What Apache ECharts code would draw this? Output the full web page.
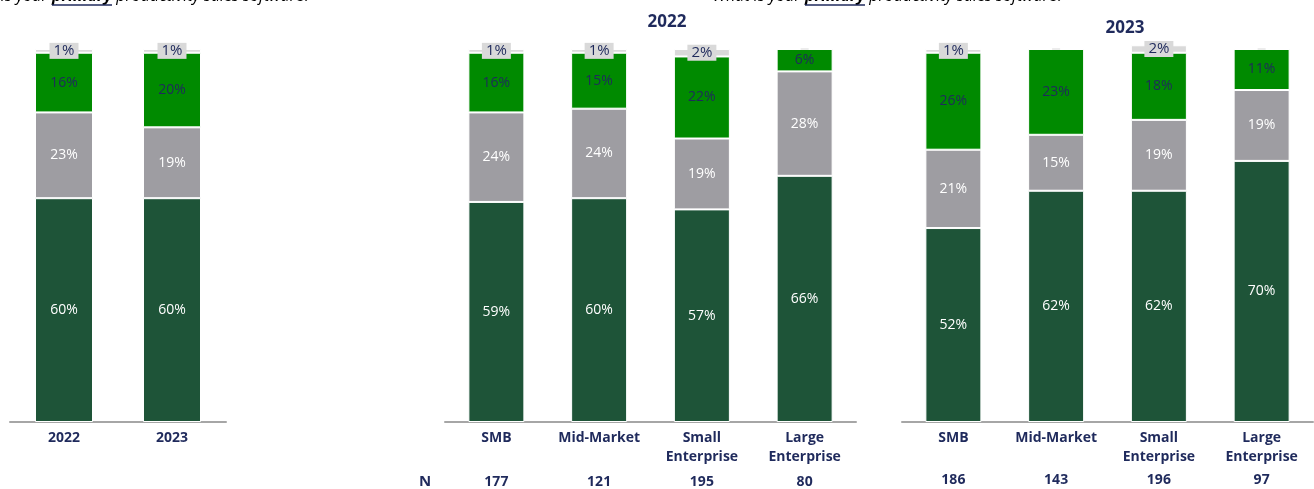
<!DOCTYPE html>
<html>
<head>
<meta charset="utf-8">
<script src="https://cdn.jsdelivr.net/npm/echarts@6/dist/echarts.min.js"></script>
<style>
  html, body { margin: 0; padding: 0; background: #ffffff; }
  #chart { width: 1314px; height: 489px; }
</style>
</head>
<body>
<div id="chart"></div>
<script>
// ---- data ----
const questionLead = 'What is your ';
const questionKey  = 'primary';
const questionTail = ' productivity sales software?';

const overallCategories = ['2022', '2023'];
const overallBase   = [60, 60];
const overallMiddle = [23, 19];
const overallUpper  = [16, 20];
const overallTop    = [1, 1];

const segmentCategories = ['SMB', 'Mid-Market', 'Small\nEnterprise', 'Large\nEnterprise'];

const seg2022Base   = [59, 60, 57, 66];
const seg2022Middle = [24, 24, 19, 28];
const seg2022Upper  = [16, 15, 22, 6];
const seg2022Top    = [1, 1, 2, 0];
const seg2022N      = [177, 121, 195, 80];

const seg2023Base   = [52, 62, 62, 70];
const seg2023Middle = [21, 15, 19, 19];
const seg2023Upper  = [26, 23, 18, 11];
const seg2023Top    = [1, 0, 2, 0];
const seg2023N      = [186, 143, 196, 97];

// ---- styling ----
const NAVY = '#1f2a5c';
const FONT = '"Open Sans", "Noto Sans", sans-serif';
const QFONT_SIZE = 16;
const layerStyles = [
  { color: '#1e5438', text: '#ffffff', boxed: false },
  { color: '#9e9da2', text: '#ffffff', boxed: false },
  { color: '#008a00', text: NAVY,      boxed: false },
  { color: '#d9d9d9', text: NAVY,      boxed: true  }
];

function stackedSeries(axisIndex, stackId, layers, barWidth) {
  return layers.map((values, i) => {
    const st = layerStyles[i];
    const label = {
      show: true,
      position: 'inside',
      fontFamily: FONT,
      fontSize: st.boxed ? 15 : 14,
      color: st.text,
      formatter: p => (p.value > 0 ? p.value + '%' : '')
    };
    if (st.boxed) {
      label.backgroundColor = '#d9d9d9';
      label.padding = [1, 4, 0, 4];
    }
    return {
      type: 'bar',
      name: stackId + '-' + i,
      xAxisIndex: axisIndex,
      yAxisIndex: axisIndex,
      stack: stackId,
      barWidth: barWidth,
      clip: false,
      data: values,
      itemStyle: { color: st.color, borderColor: '#ffffff', borderWidth: 1 },
      label: label,
      emphasis: { disabled: true },
      z: i === 3 ? 3 : 2
    };
  });
}

const grids = [
  { left: 10,  width: 216, top: 49, bottom: 67 },
  { left: 445, width: 411, top: 49, bottom: 67 },
  { left: 902, width: 411, top: 49, bottom: 67 }
];

function categoryAxis(gridIndex, data) {
  return {
    type: 'category',
    gridIndex: gridIndex,
    data: data,
    position: 'bottom',
    axisLine: { show: true, lineStyle: { color: '#a6a6a6', width: 2 } },
    axisTick: { show: false },
    axisLabel: {
      interval: 0,
      margin: 7,
      fontFamily: FONT,
      fontSize: 14,
      fontWeight: 'bold',
      color: NAVY,
      lineHeight: 19,
      verticalAlign: 'top'
    }
  };
}

function countAxis(gridIndex, data, offset) {
  return {
    type: 'category',
    gridIndex: gridIndex,
    data: data.map(String),
    position: 'bottom',
    offset: offset,
    axisLine: { show: false },
    axisTick: { show: false },
    axisLabel: {
      interval: 0,
      margin: 0,
      fontFamily: FONT,
      fontSize: 14,
      fontWeight: 'bold',
      color: NAVY,
      verticalAlign: 'top'
    }
  };
}

function valueAxis(gridIndex) {
  return {
    type: 'value', gridIndex: gridIndex, min: 0, max: 100,
    show: false, splitLine: { show: false }
  };
}

// Question line (partly above the page edge) with the key word underlined.
const measureCtx = document.createElement('canvas').getContext('2d');
function textWidth(str, font) { measureCtx.font = font; return measureCtx.measureText(str).width; }
const qFontRegular = 'italic ' + QFONT_SIZE + 'px "Open Sans"';
const qFontBold = 'italic bold ' + QFONT_SIZE + 'px "Open Sans"';

function questionGraphics(keyStartX, baselineY) {
  const leadW = textWidth(questionLead, qFontRegular);
  const keyW = textWidth(questionKey, qFontBold);
  const x0 = keyStartX - leadW;
  return [
    { type: 'text', x: x0, y: baselineY,
      style: {
        text: '{r|' + questionLead + '}{b|' + questionKey + '}{r|' + questionTail + '}',
        textVerticalAlign: 'bottom',
        rich: {
          r: { fontFamily: 'Open Sans', fontStyle: 'italic', fontSize: QFONT_SIZE, color: '#3d4a7a' },
          b: { fontFamily: 'Open Sans', fontStyle: 'italic', fontWeight: 'bold', fontSize: QFONT_SIZE, color: NAVY }
        }
      } },
    { type: 'line', shape: { x1: keyStartX, y1: 5, x2: keyStartX + keyW, y2: 5 },
      style: { stroke: NAVY, lineWidth: 1.5 } }
  ];
}

const option = {
  animation: false,
  backgroundColor: '#ffffff',
  grid: grids,
  xAxis: [
    categoryAxis(0, overallCategories),
    categoryAxis(1, segmentCategories),
    categoryAxis(2, segmentCategories),
    countAxis(1, seg2022N, 53),
    countAxis(2, seg2023N, 51)
  ],
  yAxis: [valueAxis(0), valueAxis(1), valueAxis(2), valueAxis(1), valueAxis(2)],
  title: [
    { text: '2022', left: 662, top: 9, textAlign: 'center',
      textStyle: { fontFamily: FONT, fontSize: 17, fontWeight: 'bold', color: NAVY } },
    { text: '2023', left: 1120, top: 15, textAlign: 'center',
      textStyle: { fontFamily: FONT, fontSize: 17, fontWeight: 'bold', color: NAVY } }
  ],
  graphic: [
    { type: 'text', left: 419, top: 474,
      style: { text: 'N', font: 'bold 15px ' + FONT, fill: NAVY } },
    ...questionGraphics(52, 4),
    ...questionGraphics(805, 4)
  ],
  series: [
    ...stackedSeries(0, 'overall', [overallBase, overallMiddle, overallUpper, overallTop], 58),
    ...stackedSeries(1, 'y2022', [seg2022Base, seg2022Middle, seg2022Upper, seg2022Top], 56),
    ...stackedSeries(2, 'y2023', [seg2023Base, seg2023Middle, seg2023Upper, seg2023Top], 56)
  ]
};

const chart = echarts.init(document.getElementById('chart'), null, { renderer: 'canvas' });
chart.setOption(option);
</script>
</body>
</html>
